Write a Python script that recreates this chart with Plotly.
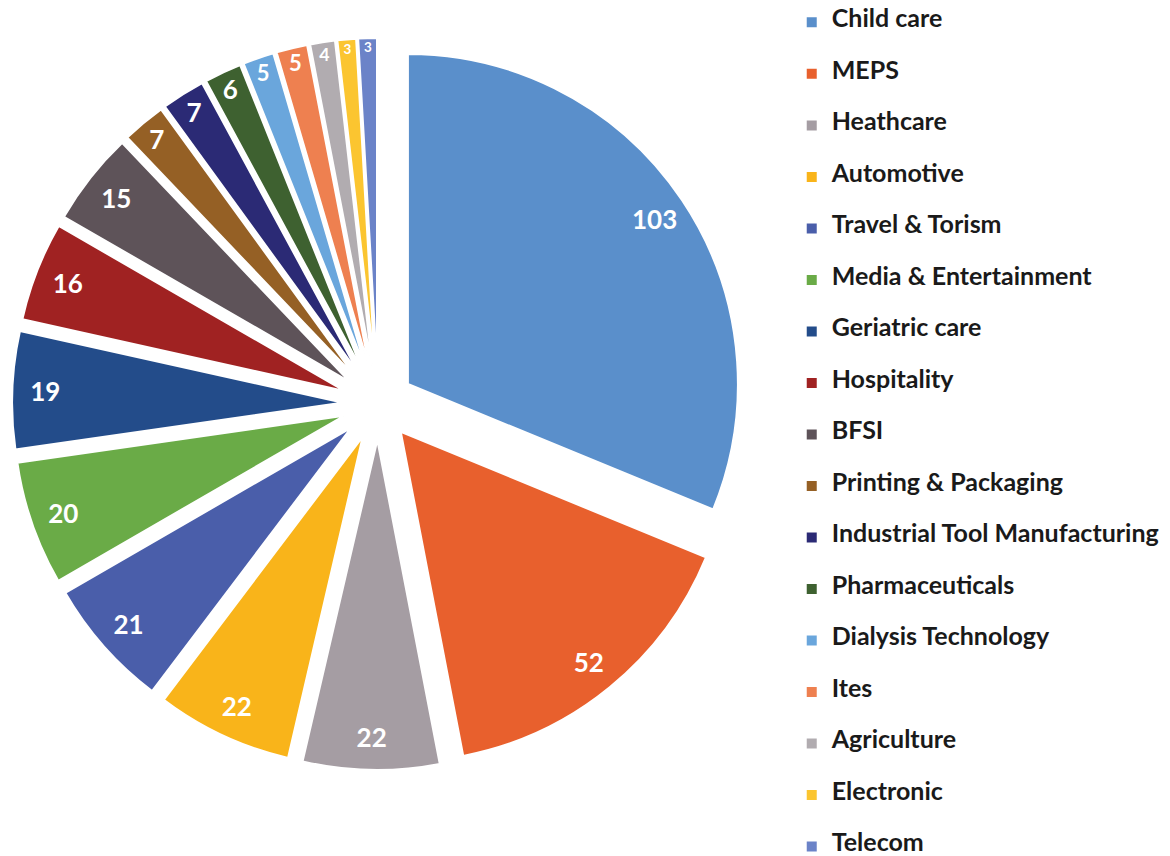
import plotly.graph_objects as go

categories = ["Child care", "MEPS", "Heathcare", "Automotive", "Travel & Torism",
              "Media & Entertainment", "Geriatric care", "Hospitality", "BFSI",
              "Printing & Packaging", "Industrial Tool Manufacturing", "Pharmaceuticals",
              "Dialysis Technology", "Ites", "Agriculture", "Electronic", "Telecom"]
counts = [103, 52, 22, 22, 21, 20, 19, 16, 15, 7, 7, 6, 5, 5, 4, 3, 3]
colors = ["#5A8FCB", "#E8602D", "#A59DA3", "#F9B41A", "#4A5EAA", "#6AAB47",
          "#234C8A", "#A02222", "#5E5359", "#956025", "#2B2A75", "#3E6130",
          "#6AA6DC", "#EE8050", "#B1ACB0", "#FBC530", "#6B83C8"]

PULL = 0.109
DOMAIN_X = [0.0103, 0.6359]
DOMAIN_Y = [0.1005, 0.9556]
FONT = "Lato"

legend_labels = ["\u00a0<br><span style='font-size:25px'><b>%s</b></span><br>\u00a0" % c
                 for c in categories]

fig = go.Figure()
fig.add_trace(go.Pie(
    labels=legend_labels, values=counts, sort=False, direction="clockwise",
    rotation=0, pull=[PULL] * len(counts),
    marker=dict(colors=colors, line=dict(color="white", width=2)),
    textinfo="none", hovertext=categories, hoverinfo="text+value",
    domain=dict(x=DOMAIN_X, y=DOMAIN_Y), showlegend=True,
))
# transparent ring overlay, only to place the value labels near the outer edge
fig.add_trace(go.Pie(
    labels=categories, values=counts, sort=False, direction="clockwise",
    rotation=0, pull=[PULL] * len(counts), hole=0.8,
    marker=dict(colors=["rgba(0,0,0,0)"] * len(counts), line=dict(width=0)),
    textinfo="value", textposition="inside", insidetextorientation="horizontal",
    insidetextfont=dict(family=FONT, size=26, color="white", weight="bold"),
    hoverinfo="skip", domain=dict(x=DOMAIN_X, y=DOMAIN_Y), showlegend=False,
))

fig.update_layout(
    width=1170, height=856,
    margin=dict(l=0, r=0, t=0, b=0),
    paper_bgcolor="white", plot_bgcolor="white",
    font=dict(family=FONT, color="#1a1a1a"),
    legend=dict(x=0.6767, xanchor="left", y=0.4923, yanchor="middle",
                font=dict(family=FONT, size=12.44, color="#1a1a1a"),
                bgcolor="rgba(0,0,0,0)", borderwidth=0, traceorder="normal"),
)
try:
    fig.update_layout(legend_maxheight=2000)
except (ValueError, AttributeError):
    fig.update_layout(legend_font_size=11.97)

fig.write_html("out.html")
